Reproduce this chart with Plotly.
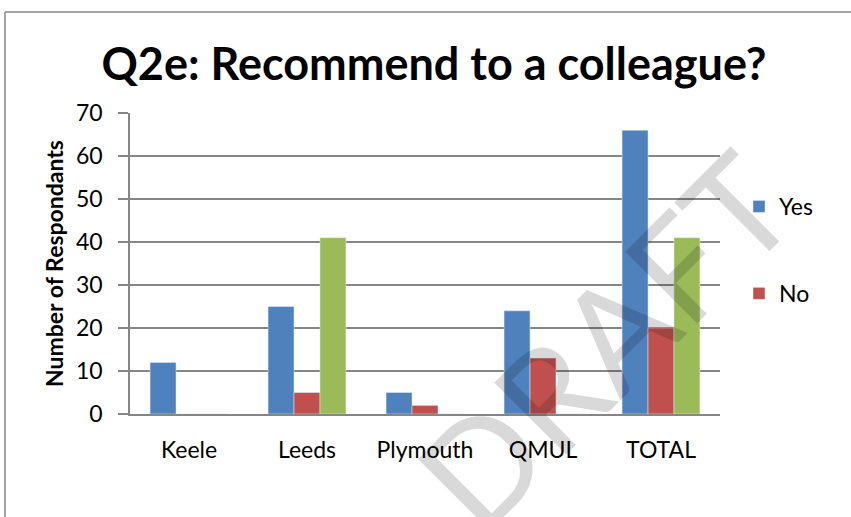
import plotly.graph_objects as go

sites = ['Keele', 'Leeds', 'Plymouth', 'QMUL', 'TOTAL']
yes = [12, 25, 5, 24, 66]
no = [0, 5, 2, 13, 20]
other = [0, 41, 0, 0, 41]

W, H = 851, 517
L, R, T, B = 130, 131, 113, 103
pw, ph = W - L - R, H - T - B

def px_x(x):
    return (x - L) / pw

def px_y(y):
    return (H - B - y) / ph

font = 'Lato'
grey = '#868686'

fig = go.Figure()
fig.add_trace(go.Bar(x=sites, y=yes, name='Yes', marker_color='#4F81BD', legendgroup='a'))
fig.add_trace(go.Bar(x=sites, y=no, name='No', marker_color='#C0504D', legendgroup='b'))
fig.add_trace(go.Bar(x=sites, y=other, name='', marker_color='#9BBB59', showlegend=False))

fig.update_layout(
    width=W, height=H,
    margin=dict(l=L, r=R, t=T, b=B, autoexpand=False),
    plot_bgcolor='white',
    paper_bgcolor='white',
    font=dict(family=font, size=23, color='black'),
    barmode='group',
    bargap=0.34,
    bargroupgap=0,
    title=dict(text='<b>Q2e: Recommend to a colleague?</b>',
               font=dict(size=45, family=font),
               x=434 / W, xanchor='center',
               y=1 - 64 / H, yanchor='middle'),
    legend=dict(x=px_x(739), y=px_y(185), xanchor='left', yanchor='top',
                font=dict(size=23), tracegroupgap=54, bgcolor='rgba(0,0,0,0)'),
    xaxis=dict(showline=True, linecolor=grey, linewidth=1.5, ticks='',
               tickfont=dict(size=23), ticklabelstandoff=15),
    yaxis=dict(range=[0, 70], dtick=10, showline=True, linecolor=grey, linewidth=1.5,
               showgrid=True, gridcolor=grey, gridwidth=1.5, zeroline=False,
               ticks='outside', ticklen=10, tickcolor=grey, tickwidth=1.5,
               tickfont=dict(size=23), ticklabelstandoff=11,
               title=dict(text='<b>Number of Respondants</b>', font=dict(size=23), standoff=6)),
)

# chart frame (partly cut off in the source)
fig.add_shape(type='line', xref='paper', yref='paper',
              x0=px_x(5), x1=px_x(5), y0=px_y(12), y1=px_y(530),
              line=dict(color=grey, width=1.5))
fig.add_shape(type='line', xref='paper', yref='paper',
              x0=px_x(5), x1=px_x(860), y0=px_y(12), y1=px_y(12),
              line=dict(color=grey, width=1.5))

# watermark
fig.add_annotation(text='DRAFT', xref='paper', yref='paper',
                   x=px_x(603), y=px_y(340), xanchor='center', yanchor='middle',
                   showarrow=False, textangle=-45,
                   font=dict(size=142, family=font, color='rgba(0,0,0,0.15)'))

fig.write_html('out.html', config={'displayModeBar': False},
               post_script="document.body.style.margin='0px';")
